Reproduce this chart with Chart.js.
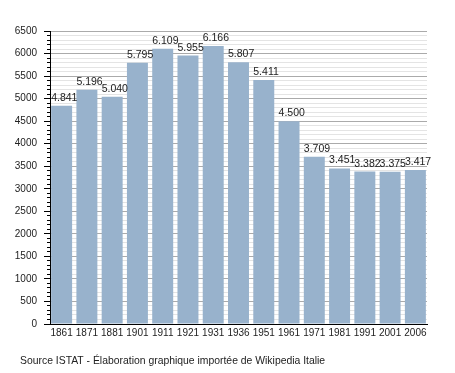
<!DOCTYPE html>
<html>
<head>
<meta charset="utf-8">
<script src="https://cdn.jsdelivr.net/npm/chart.js@4"></script>
<style>
html,body{margin:0;padding:0;background:#fff;}
#wrap{width:455px;height:373px;}
</style>
</head>
<body>
<div id="wrap"><canvas id="c" width="455" height="373"></canvas></div>
<script>
const years = ["1861","1871","1881","1901","1911","1921","1931","1936","1951","1961","1971","1981","1991","2001","2006"];
const population = [4841,5196,5040,5795,6109,5955,6166,5807,5411,4500,3709,3451,3382,3375,3417];
const yMin = 0, yMax = 6500, yMajorStep = 500, yMinorStep = 100;
const footerText = "Source ISTAT - Élaboration graphique importée de Wikipedia Italie";

function fmt(v){ return String(v).replace(/\B(?=(\d{3})+(?!\d))/g, '.'); }

const FONT = '"Liberation Sans", Arial, sans-serif';

const labelPlugin = {
  id: 'barLabels',
  afterDatasetsDraw(chart){
    const ctx = chart.ctx;
    const meta = chart.getDatasetMeta(0);
    ctx.save();
    ctx.font = '10.5px ' + FONT;
    ctx.fillStyle = '#222';
    ctx.textAlign = 'left';
    ctx.textBaseline = 'alphabetic';
    meta.data.forEach((bar, i) => {
      ctx.fillText(fmt(population[i]), bar.x - bar.width/2, bar.y - 5);
    });
    ctx.restore();
  },
  afterDraw(chart){
    const ctx = chart.ctx;
    ctx.save();
    ctx.font = '10.4px ' + FONT;
    ctx.fillStyle = '#222';
    ctx.textAlign = 'left';
    ctx.textBaseline = 'middle';
    ctx.fillText(footerText, 20, 361);
    ctx.restore();
  }
};

Chart.defaults.font.family = FONT;
Chart.defaults.font.size = 10;
Chart.defaults.color = '#222';

new Chart(document.getElementById('c'), {
  type: 'bar',
  data: {
    datasets: [{
      data: population.map((v, i) => ({x: i, y: v})),
      backgroundColor: '#98b2cc',
      borderWidth: 0,
      categoryPercentage: 1,
      barPercentage: 0.83
    }]
  },
  options: {
    responsive: false,
    animation: false,
    devicePixelRatio: 1,
    layout: { padding: { left: 0, right: 28, top: 31, bottom: 18 } },
    plugins: {
      legend: { display: false },
      tooltip: { enabled: false },
      title: { display: false }
    },
    scales: {
      x: {
        type: 'linear',
        offset: false,
        min: -0.46,
        max: 14.46,
        afterFit: (s) => { s.height = 31; },
        grid: { display: false, drawTicks: false },
        border: { display: true, color: '#000', width: 1 },
        ticks: {
          stepSize: 1,
          includeBounds: false,
          autoSkip: false,
          maxRotation: 0,
          padding: 3,
          color: '#222',
          callback: (v) => Number.isInteger(v) && v >= 0 && v < years.length ? years[v] : ''
        }
      },
      y: {
        type: 'linear',
        position: 'left',
        weight: 1,
        min: yMin,
        max: yMax,
        afterFit: (s) => { s.width = 50; },
        border: { display: true, color: '#000', width: 1 },
        grid: {
          color: (c) => (c.tick && c.tick.value % yMajorStep === 0) ? '#aaaaaa' : '#e4e4e4',
          tickColor: (c) => (c.tick && c.tick.value % yMajorStep === 0) ? '#000' : 'rgba(0,0,0,0)',
          tickLength: 6,
          drawTicks: true
        },
        ticks: {
          stepSize: yMinorStep,
          autoSkip: false,
          padding: 7,
          color: '#222',
          callback: (v) => v % yMajorStep === 0 ? String(v) : ''
        }
      },
      y2: {
        type: 'linear',
        position: 'left',
        weight: 0,
        min: yMin,
        max: yMax,
        afterFit: (s) => { s.width = 0; },
        border: { display: false },
        grid: {
          drawOnChartArea: false,
          drawTicks: true,
          tickLength: 3,
          tickColor: '#000'
        },
        ticks: {
          stepSize: yMinorStep,
          autoSkip: false,
          padding: 0,
          callback: () => ''
        }
      }
    }
  },
  plugins: [labelPlugin]
});
</script>
</body>
</html>
